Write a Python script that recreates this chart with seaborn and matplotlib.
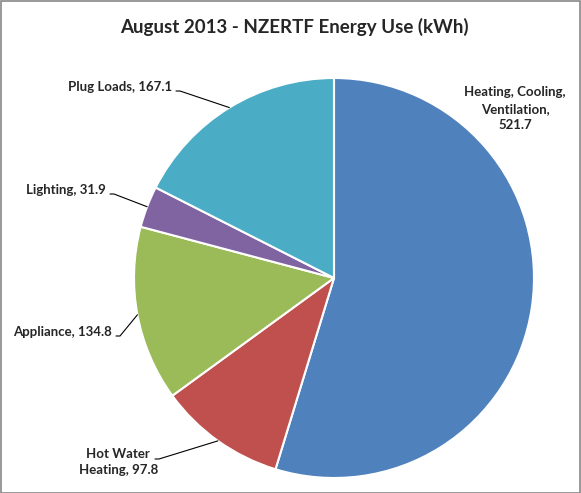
import numpy as np
import matplotlib
matplotlib.use("Agg")
import matplotlib.pyplot as plt
import seaborn as sns

# data
categories = ["Heating, Cooling,\nVentilation,", "Hot Water\nHeating,", "Appliance,", "Lighting,", "Plug Loads,"]
energy_kwh = [521.7, 97.8, 134.8, 31.9, 167.1]
slice_colors = ["#4F81BD", "#C0504D", "#9BBB59", "#8064A2", "#4BACC6"]

sns.set_theme(style="white")
plt.rcParams["font.family"] = ["Lato", "DejaVu Sans"]

fig = plt.figure(figsize=(5.81, 4.93), dpi=100)
ax = fig.add_axes([0, 0, 1, 1])

wedges, _ = ax.pie(
    energy_kwh,
    colors=slice_colors,
    startangle=90,
    counterclock=False,
    radius=1.0,
    wedgeprops=dict(edgecolor="white", linewidth=1.5),
)

# label spots (pie units), Excel "best fit" style
label_spots = [
    (0.905, 0.845, None),
    (-0.895, -0.905, "hot"),
    (-1.09, -0.29, "left"),
    (-1.12, 0.42, "left"),
    (-0.79, 0.935, "left"),
]

for w, name, val, (tx, ty, kind) in zip(wedges, categories, energy_kwh, label_spots):
    mid = np.deg2rad((w.theta1 + w.theta2) / 2)
    ex, ey = np.cos(mid), np.sin(mid)
    txt = f"{name} {val}" if "\n" not in name or kind == "hot" else f"{name}\n{val}"
    if kind is None:
        ax.text(tx, ty, txt, ha="center", va="center", fontsize=9.5,
                fontweight="bold", multialignment="center", linespacing=1.45)
        continue
    ax.plot([ex, tx + 0.02, tx], [ey, ty, ty], color="black", lw=0.8)
    if kind == "hot":
        ax.text(tx + 0.015, ty + 0.055, txt, ha="right", va="top", fontsize=9.5,
                fontweight="bold", multialignment="center", linespacing=1.4)
    else:
        ax.text(tx - 0.02, ty + 0.02, txt, ha="right", va="center",
                fontsize=9.5, fontweight="bold")

ax.set_xlim(-334 / 200, (581 - 334) / 200)
ax.set_ylim((278 - 493) / 200, 278 / 200)
ax.set_aspect("equal")
ax.axis("off")

fig.text(0.506, 1 - 27 / 493, "August 2013 - NZERTF Energy Use (kWh)",
         ha="center", va="center", fontsize=13.5, fontweight="bold")

# gray chart border
fig.patches.append(plt.Rectangle((0.001, 0.001), 0.997, 0.997, transform=fig.transFigure,
                                 fill=False, edgecolor="#878787", linewidth=1.2))

plt.savefig("out.png", dpi=100)
